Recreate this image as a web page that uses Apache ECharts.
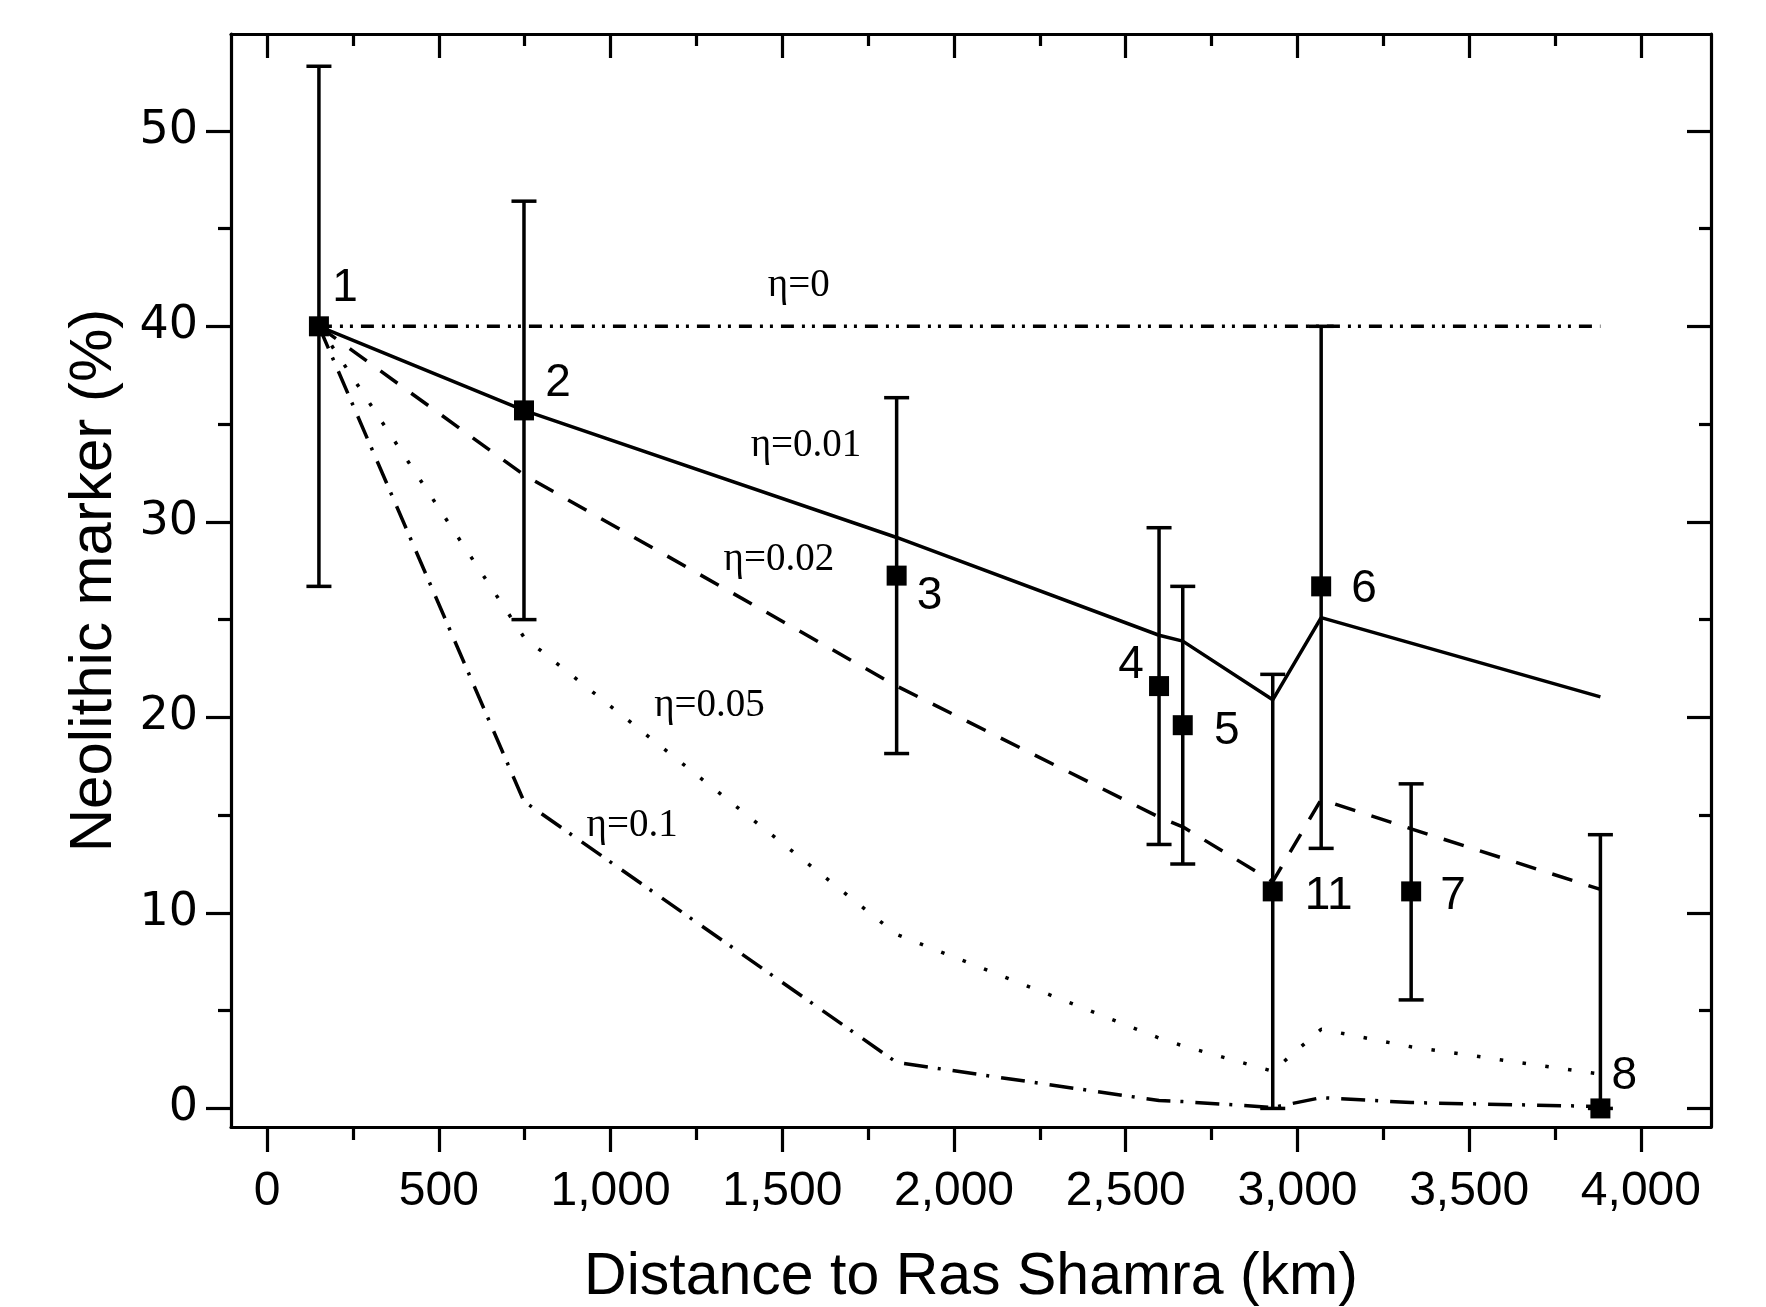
<!DOCTYPE html>
<html>
<head>
<meta charset="utf-8">
<script src="https://cdn.jsdelivr.net/npm/echarts@6/dist/echarts.min.js"></script>
<style>
html,body{margin:0;padding:0;background:#fff;}
#chart{width:1766px;height:1307px;}
</style>
</head>
<body>
<div id="chart"></div>
<script>
// ---- Data ----
const siteNames   = ['1', '2', '3', '4', '5', '11', '6', '7', '8'];
const distanceKm  = [151, 748, 1833, 2597, 2666, 2928, 3069, 3331, 3882];
const markerPct   = [40.0, 35.7, 27.25, 21.6, 19.6, 11.1, 26.7, 11.1, 0.0];
const errLow      = [26.7, 25.0, 18.15, 13.5, 12.5, 0.0, 13.3, 5.55, 0.0];
const errHigh     = [53.3, 46.4, 36.35, 29.7, 26.7, 22.2, 40.0, 16.6, 14.0];

// model curves evaluated at the site distances
const eta0   = [40, 40, 40, 40, 40, 40, 40, 40, 40];
const eta001 = [40, 35.7, 29.2, 24.2, 23.9, 20.9, 25.1, 23.8, 21.05];
const eta002 = [40, 32.4, 21.6, 14.9, 14.4, 11.6, 15.8, 14.3, 11.2];
const eta005 = [40, 24.1, 8.9, 3.6, 3.2, 1.9, 4.05, 3.15, 1.75];
const eta01  = [40, 15.7, 2.35, 0.4, 0.35, 0.05, 0.55, 0.3, 0.1];

const curveNames  = ['η=0', 'η=0.01', 'η=0.02', 'η=0.05', 'η=0.1'];
const curveLabelX = [1548, 1569, 1490, 1288, 1063];
const curveLabelY = [42.05, 33.9, 28.05, 20.6, 14.45];

const xMajorTicks = [0, 500, 1000, 1500, 2000, 2500, 3000, 3500, 4000];
const xMinorTicks = [250, 750, 1250, 1750, 2250, 2750, 3250, 3750];
const yMajorTicks = [0, 10, 20, 30, 40, 50];
const yMinorTicks = [5, 15, 25, 35, 45];

// ---- Styles / layout (not data) ----
const siteLabelOffsets = [[26,-38],[34,-27],[33,21],[-28,-21],[44,6],[56,5],[43,3],[42,5],[24,-32]];
const curveDash = [
  [13, 8, 3, 7, 3, 8],
  'solid',
  [21, 17],
  [3.5, 19.5],
  [24, 10, 3, 12]
];
const X_MIN = -105, X_MAX = 4204, Y_MIN = -0.95, Y_MAX = 54.95;
const LW = 3.5;
const AX_LW = 3.2;

const chart = echarts.init(document.getElementById('chart'));

function xAxisDef(pos, ticks, len, inside, labels, line) {
  return {
    type: 'value', position: pos, min: X_MIN, max: X_MAX,
    axisLine: { show: line, onZero: false, lineStyle: { color: '#000', width: AX_LW } },
    axisTick: { show: true, inside: inside, length: len, customValues: ticks,
                lineStyle: { color: '#000', width: AX_LW } },
    axisLabel: labels ? {
      show: true, customValues: ticks, margin: 41,
      color: '#000', fontFamily: 'Liberation Sans, Arial, sans-serif', fontSize: 48,
      formatter: v => Number(v).toLocaleString('en-US')
    } : { show: false },
    splitLine: { show: false }
  };
}
function yAxisDef(pos, ticks, len, inside, labels, line) {
  return {
    type: 'value', position: pos, min: Y_MIN, max: Y_MAX,
    axisLine: { show: line, onZero: false, lineStyle: { color: '#000', width: AX_LW } },
    axisTick: { show: true, inside: inside, length: len, customValues: ticks,
                lineStyle: { color: '#000', width: AX_LW } },
    axisLabel: labels ? {
      show: true, customValues: ticks, margin: 33,
      color: '#000', fontFamily: 'DejaVu Sans, sans-serif', fontSize: 46,
      formatter: v => String(Math.round(v))
    } : { show: false },
    splitLine: { show: false }
  };
}

const xAxes = [
  xAxisDef('bottom', xMajorTicks, 25, false, true, true),
  xAxisDef('bottom', xMinorTicks, 13, false, false, false),
  xAxisDef('top', xMajorTicks, 24, true, false, true),
  xAxisDef('top', xMinorTicks, 12, true, false, false)
];
Object.assign(xAxes[0], {
  name: 'Distance to Ras Shamra (km)', nameLocation: 'middle', nameGap: 121,
  nameTextStyle: { color: '#000', fontFamily: 'Liberation Sans, Arial, sans-serif', fontSize: 59 }
});
const yAxes = [
  yAxisDef('left', yMajorTicks, 25, false, true, true),
  yAxisDef('left', yMinorTicks, 13, false, false, false),
  yAxisDef('right', yMajorTicks, 24, true, false, true),
  yAxisDef('right', yMinorTicks, 12, true, false, false)
];
Object.assign(yAxes[0], {
  name: 'Neolithic marker (%)', nameLocation: 'middle', nameGap: 107,
  nameTextStyle: { color: '#000', fontFamily: 'Liberation Sans, Arial, sans-serif', fontSize: 60 }
});

const curves = [eta0, eta001, eta002, eta005, eta01];
const curveSeries = curves.map((vals, i) => ({
  type: 'line', name: curveNames[i], xAxisIndex: 0, yAxisIndex: 0,
  data: vals.map((v, k) => [distanceKm[k], v]),
  showSymbol: false, symbol: 'none', silent: true, z: 2,
  lineStyle: { color: '#000', width: LW, type: curveDash[i], cap: 'butt', opacity: 1 }
}));

const errorSeries = {
  type: 'custom', xAxisIndex: 0, yAxisIndex: 0, z: 3, silent: true,
  data: distanceKm.map((d, k) => [d, errLow[k], errHigh[k]]),
  renderItem: function (params, api) {
    const x = api.value(0);
    const top = api.coord([x, api.value(2)]);
    const bot = api.coord([x, api.value(1)]);
    const hw = 12.5;
    const st = { stroke: '#000', lineWidth: LW };
    return {
      type: 'group',
      children: [
        { type: 'line', shape: { x1: top[0], y1: top[1], x2: bot[0], y2: bot[1] }, style: st },
        { type: 'line', shape: { x1: top[0] - hw, y1: top[1], x2: top[0] + hw, y2: top[1] }, style: st },
        { type: 'line', shape: { x1: bot[0] - hw, y1: bot[1], x2: bot[0] + hw, y2: bot[1] }, style: st }
      ]
    };
  }
};

const pointSeries = {
  type: 'scatter', xAxisIndex: 0, yAxisIndex: 0, z: 4, silent: true,
  symbol: 'rect', symbolSize: 20,
  itemStyle: { color: '#000', opacity: 1 },
  data: distanceKm.map((d, k) => ({
    value: [d, markerPct[k]],
    label: { offset: siteLabelOffsets[k] }
  })),
  label: {
    show: true, position: 'inside', color: '#000', opacity: 1,
    textBorderWidth: 0,
    fontFamily: 'Liberation Sans, Arial, sans-serif', fontSize: 46,
    formatter: p => siteNames[p.dataIndex]
  }
};

const curveLabelSeries = {
  type: 'scatter', xAxisIndex: 0, yAxisIndex: 0, z: 5, silent: true,
  symbolSize: 1, itemStyle: { color: 'rgba(0,0,0,0)', opacity: 1 },
  data: curveLabelX.map((x, i) => [x, curveLabelY[i]]),
  label: {
    show: true, position: 'inside', color: '#000', opacity: 1,
    textBorderWidth: 0,
    fontFamily: 'Liberation Serif, Times New Roman, serif', fontSize: 39,
    formatter: p => curveNames[p.dataIndex]
  }
};

chart.setOption({
  animation: false,
  backgroundColor: '#fff',
  grid: { left: 231, top: 34, width: 1480, height: 1093, containLabel: false, outerBoundsMode: 'none' },
  xAxis: xAxes,
  yAxis: yAxes,
  series: [...curveSeries, errorSeries, pointSeries, curveLabelSeries]
});
</script>
</body>
</html>
